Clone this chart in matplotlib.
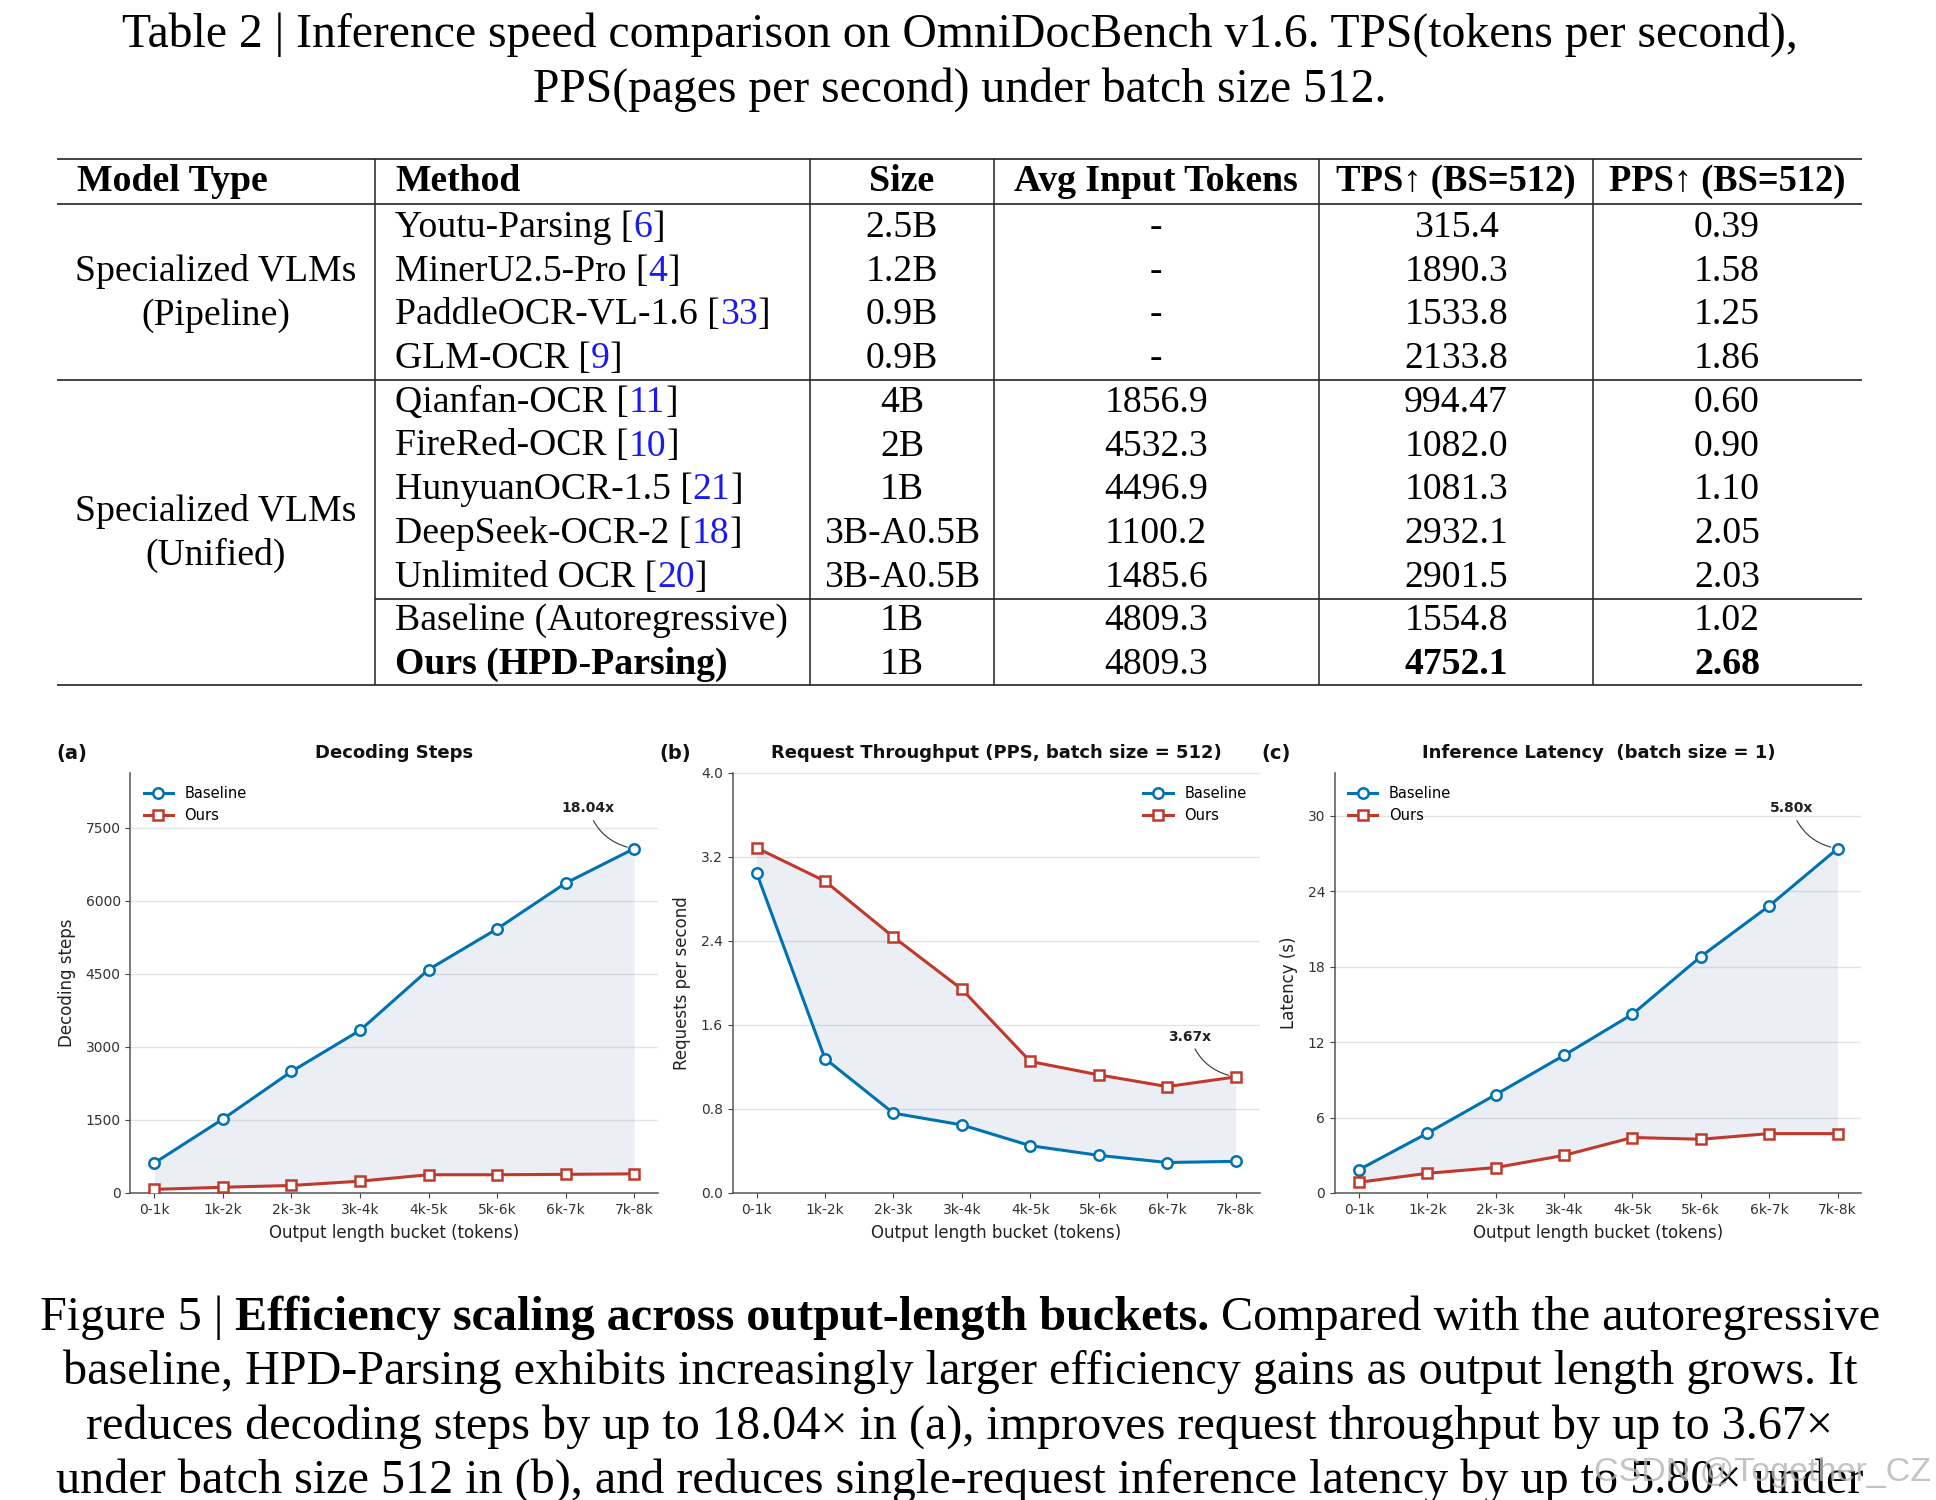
import matplotlib
matplotlib.use("Agg")
import matplotlib.pyplot as plt
import numpy as np

# ---------------- table data ----------------
headers = ["Model Type", "Method", "Size", "Avg Input Tokens", "TPS\u2191 (BS=512)", "PPS\u2191 (BS=512)"]
model_types = [["Specialized VLMs", "(Pipeline)"], ["Specialized VLMs", "(Unified)"]]
methods = ["Youtu-Parsing", "MinerU2.5-Pro", "PaddleOCR-VL-1.6", "GLM-OCR",
           "Qianfan-OCR", "FireRed-OCR", "HunyuanOCR-1.5", "DeepSeek-OCR-2", "Unlimited OCR",
           "Baseline (Autoregressive)", "Ours (HPD-Parsing)"]
cites = ["6", "4", "33", "9", "11", "10", "21", "18", "20", "", ""]
sizes = ["2.5B", "1.2B", "0.9B", "0.9B", "4B", "2B", "1B", "3B-A0.5B", "3B-A0.5B", "1B", "1B"]
avg_tokens = ["-", "-", "-", "-", "1856.9", "4532.3", "4496.9", "1100.2", "1485.6", "4809.3", "4809.3"]
tps = ["315.4", "1890.3", "1533.8", "2133.8", "994.47", "1082.0", "1081.3", "2932.1", "2901.5", "1554.8", "4752.1"]
pps = ["0.39", "1.58", "1.25", "1.86", "0.60", "0.90", "1.10", "2.05", "2.03", "1.02", "2.68"]

table_title = ["Table 2 | Inference speed comparison on OmniDocBench v1.6. TPS(tokens per second),",
               "PPS(pages per second) under batch size 512."]

# ---------------- chart data ----------------
buckets = ["0-1k", "1k-2k", "2k-3k", "3k-4k", "4k-5k", "5k-6k", "6k-7k", "7k-8k"]
steps_base = [616, 1519, 2495, 3339, 4587, 5423, 6362, 7070]
steps_ours = [73, 117, 154, 242, 374, 374, 382, 392]
pps_base = [3.05, 1.28, 0.76, 0.648, 0.45, 0.358, 0.29, 0.301]
pps_ours = [3.287, 2.97, 2.438, 1.94, 1.252, 1.125, 1.013, 1.105]
lat_base = [1.85, 4.75, 7.82, 10.95, 14.22, 18.8, 22.83, 27.38]
lat_ours = [0.85, 1.56, 2.02, 2.99, 4.41, 4.27, 4.72, 4.72]

panel_titles = ["Decoding Steps", "Request Throughput (PPS, batch size = 512)",
                "Inference Latency  (batch size = 1)"]
panel_tags = ["(a)", "(b)", "(c)"]
ylabels = ["Decoding steps", "Requests per second", "Latency (s)"]
speedups = ["18.04x", "3.67x", "5.80x"]

caption = [
    [("Figure 5 | ", "normal"), ("Efficiency scaling across output-length buckets.", "bold"),
     (" Compared with the autoregressive", "normal")],
    [("baseline, HPD-Parsing exhibits increasingly larger efficiency gains as output length grows. It", "normal")],
    [("reduces decoding steps by up to 18.04\u00d7 in (a), improves request throughput by up to 3.67\u00d7", "normal")],
    [("under batch size 512 in (b), and reduces single-request inference latency by up to 5.80\u00d7 under", "normal")],
]
watermark = "CSDN @Together_CZ"

SERIF = ["Liberation Serif", "DejaVu Serif"]
SANS = ["Liberation Sans", "DejaVu Sans"]
BLUE = "#0072B2"
RED = "#C0392B"
CITE = "#1a1aee"

W, H = 1936, 1500
fig = plt.figure(figsize=(W / 100, H / 100), dpi=100)
fig.patch.set_facecolor("white")

# background axes in pixel coordinates (y downwards) for the table and caption
bg = fig.add_axes([0, 0, 1, 1])
bg.set_xlim(0, W)
bg.set_ylim(H, 0)
bg.axis("off")
renderer = fig.canvas.get_renderer()


def text_w(s, size, weight="normal", family=SERIF):
    t = bg.text(0, 0, s + "|", size=size, weight=weight, family=family)
    w = t.get_window_extent(renderer).width
    t.set_text("|")
    w -= t.get_window_extent(renderer).width
    t.remove()
    return w


def fit(s, target, weight="normal", family=SERIF):
    return 20 * target / text_w(s, 20, weight, family)


def draw_runs(x, y, runs, size, ha="left"):
    # runs: (text, colour, weight)
    widths = [text_w(t, size, wt) for t, c, wt in runs]
    if ha == "center":
        x -= sum(widths) / 2
    for (t, c, wt), w in zip(runs, widths):
        bg.text(x, y, t, size=size, color=c, weight=wt, family=SERIF, va="baseline", ha="left")
        x += w


# ---------------- table title ----------------
title_size = (fit(table_title[0], 1675) + fit(table_title[1], 854)) / 2
for line, y in zip(table_title, [47, 102]):
    bg.text(960, y, line, size=title_size, family=SERIF, ha="center", va="baseline")

# ---------------- table ----------------
tsize = fit("Baseline (Autoregressive)", 394)
col_lines = [375, 810, 994, 1319, 1593]
x_left, x_right = 57, 1862
centers = [None, None, 902, 1156, 1456, 1727]

for y in [159, 204, 380, 685]:
    bg.plot([x_left, x_right], [y, y], color="#222222", lw=1.2, solid_capstyle="butt")
bg.plot([col_lines[0], x_right], [599, 599], color="#222222", lw=1.2, solid_capstyle="butt")
for x in col_lines:
    bg.plot([x, x], [159, 685], color="#222222", lw=1.1, solid_capstyle="butt")

# header cells: each one sized to the width it takes in the page
hy = 191
head_w = [191, 125, 66, 283, 232, 229]
base_h = (fit(headers[3], 283, "bold") + fit(headers[0], 191, "bold")) / 2
for j, (h, hw) in enumerate(zip(headers, head_w)):
    hs = 0.5 * base_h + 0.5 * fit(h, hw, "bold")
    if j < 2:
        bg.text([77, 395][j], hy, h, size=hs, weight="bold", family=SERIF, va="baseline")
    else:
        bg.text(centers[j], hy, h, size=hs, weight="bold", family=SERIF, va="baseline", ha="center")

row_y = [237 + 43.7 * i for i in range(len(methods))]
for i, y in enumerate(row_y):
    wt = "bold" if i == len(methods) - 1 else "normal"
    if cites[i]:
        draw_runs(395, y, [(methods[i] + " [", "black", wt), (cites[i], CITE, wt), ("]", "black", wt)], tsize)
    else:
        bg.text(395, y, methods[i], size=tsize, weight=wt, family=SERIF, va="baseline")
    bg.text(centers[2], y, sizes[i], size=tsize, family=SERIF, va="baseline", ha="center")
    bg.text(centers[3], y, avg_tokens[i], size=tsize, family=SERIF, va="baseline", ha="center")
    bg.text(centers[4], y, tps[i], size=tsize, weight=wt, family=SERIF, va="baseline", ha="center")
    bg.text(centers[5], y, pps[i], size=tsize, weight=wt, family=SERIF, va="baseline", ha="center")

groups = [(0, 3), (4, 10)]
for (a, b), lines in zip(groups, model_types):
    mid = (row_y[a] + row_y[b]) / 2
    for k, line in enumerate(lines):
        bg.text(216, mid + (k - 0.5) * 43.7, line, size=tsize, family=SERIF, va="baseline", ha="center")

# ---------------- charts ----------------
x = np.arange(len(buckets))
panels = [
    (steps_base, steps_ours, [0.0674, 0.2047, 0.2725, 0.28], "upper left", "base"),
    (pps_base, pps_ours, [0.3784, 0.2047, 0.2722, 0.28], "upper right", "ours"),
    (lat_base, lat_ours, [0.6896, 0.2047, 0.2719, 0.28], "upper left", "base"),
]
tag_x = [72, 675, 1276]

for k, (base, ours, rect, loc, ann_on) in enumerate(panels):
    ax = fig.add_axes(rect)
    ax.fill_between(x, base, ours, color="#5B7DB1", alpha=0.12, lw=0, zorder=1)
    ax.plot(x, base, color=BLUE, lw=2.2, marker="o", ms=7.5, mfc="white", mew=1.8,
            label="Baseline", zorder=3)
    ax.plot(x, ours, color=RED, lw=2.2, marker="s", ms=7.5, mfc="white", mew=1.8,
            label="Ours", zorder=3)

    if k == 0:
        ax.set_ylim(0, max(base) * 1.22)
        ax.set_yticks(np.arange(0, 7501, 1500))
    elif k == 1:
        ax.set_ylim(0, 4.0)
        ax.set_yticks(np.arange(0, 4.01, 0.8))
        ax.yaxis.set_major_formatter(matplotlib.ticker.FormatStrFormatter("%.1f"))
    else:
        ax.set_ylim(0, max(base) * 1.22)
        ax.set_yticks(np.arange(0, 31, 6))

    ax.set_xticks(x, buckets)
    ax.tick_params(labelsize=10, colors="#444444", labelcolor="#333333")
    ax.yaxis.grid(True, color="#e4e4e4", lw=1.0)
    ax.set_axisbelow(True)
    for s in ["top", "right"]:
        ax.spines[s].set_visible(False)
    for s in ["left", "bottom"]:
        ax.spines[s].set_color("#555555")
        ax.spines[s].set_linewidth(1.1)

    ax.set_xlabel("Output length bucket (tokens)", fontsize=12, color="#222222", labelpad=5)
    ax.set_ylabel(ylabels[k], fontsize=12, color="#222222", labelpad=7)
    ax.legend(loc=loc, frameon=False, fontsize=10.5)

    yv = base[-1] if ann_on == "base" else ours[-1]
    ax.annotate(speedups[k], xy=(x[-1], yv), xytext=(-33, 29), textcoords="offset points",
                ha="center", va="center", fontsize=10, fontweight="bold", color="#222222",
                arrowprops=dict(arrowstyle="-", color="#333333", lw=0.8, shrinkB=5,
                                connectionstyle="arc3,rad=0.3"))

    cx = (rect[0] + rect[2] / 2) * W
    bg.text(cx, 753, panel_titles[k], fontsize=13, fontweight="bold", ha="center", va="center",
            color="#111111")
    bg.text(tag_x[k], 753, panel_tags[k], fontsize=14, fontweight="bold", ha="center", va="center",
            color="#111111")

# ---------------- caption ----------------
cap_sizes = []
for runs, target in zip(caption, [1824, 1797, 1755, 1804]):
    wsum = sum(text_w(t, 20, wt) for t, wt in runs)
    cap_sizes.append(20 * target / wsum)
cap_size = float(np.mean(cap_sizes))
for runs, y in zip(caption, [1330, 1384, 1439, 1493]):
    draw_runs(960, y, [(t, "black", wt) for t, wt in runs], cap_size, ha="center")

wm_size = fit(watermark, 336, family=SANS)
bg.text(1594, 1472, watermark, fontsize=wm_size, family=SANS,
        color="#b5b5b5", alpha=0.8, va="center", ha="left")

fig.savefig("out.png", dpi=100)
